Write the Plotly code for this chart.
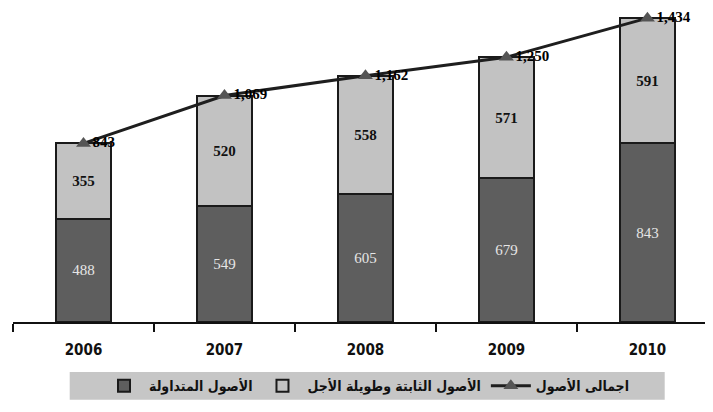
import plotly.graph_objects as go

years = ["2006", "2007", "2008", "2009", "2010"]
current_assets = [488, 549, 605, 679, 843]
fixed_assets = [355, 520, 558, 571, 591]
total_assets = [843, 1069, 1162, 1250, 1434]
total_labels = ["843", "1,069", "1,162", "1,250", "1,434"]

name_current = "الأصول المتداولة"
name_fixed = "الأصول الثابتة وطويلة الأجل"
name_total = "اجمالى الأصول"

serif = "Liberation Serif, DejaVu Serif, serif"

fig = go.Figure()
fig.add_trace(go.Bar(
    x=years, y=current_assets, name=name_current,
    marker=dict(color="#5e5e5e", line=dict(color="#1a1a1a", width=2)),
    text=[str(v) for v in current_assets], textposition="inside",
    insidetextanchor="middle",
    textfont=dict(family=serif, size=15, color="#e6e6e6"),
))
fig.add_trace(go.Bar(
    x=years, y=fixed_assets, name=name_fixed,
    marker=dict(color="#c2c2c2", line=dict(color="#1a1a1a", width=2)),
    text=[str(v) for v in fixed_assets], textposition="inside",
    insidetextanchor="middle",
    textfont=dict(family=serif, size=15, color="#111111", weight="bold"),
))
fig.add_trace(go.Scatter(
    x=years, y=total_assets, name=name_total,
    mode="lines+markers+text",
    line=dict(color="#1e1e1e", width=3),
    marker=dict(symbol="triangle-up", size=13, color="#555555"),
    text=total_labels, textposition="middle right",
    textfont=dict(family=serif, size=15, color="#000000", weight="bold"),
    cliponaxis=False,
))

fig.add_shape(
    type="rect", xref="paper", yref="paper",
    x0=0.081, x1=0.931, y0=-0.159, y1=-0.248,
    fillcolor="#c6c6c6", line=dict(width=0), layer="below",
)

fig.update_layout(
    width=705, height=404,
    margin=dict(l=5, r=0, t=0, b=90, autoexpand=False),
    barmode="stack", bargap=0.61,
    plot_bgcolor="white", paper_bgcolor="white",
    showlegend=True,
    legend=dict(
        orientation="h", x=0.505, xanchor="center", y=-0.204, yanchor="middle",
        bgcolor="rgba(0,0,0,0)", borderwidth=0,
        font=dict(family="DejaVu Sans Condensed, Noto Sans", size=14, color="#111111", weight="bold"),
        traceorder="normal", itemwidth=40,
    ),
    xaxis=dict(
        type="category", range=[-0.5, 4.465],
        showline=True, linecolor="#111111", linewidth=2,
        ticks="outside", tickson="boundaries", ticklen=8, tickcolor="#111111", tickwidth=2,
        ticklabelstandoff=13,
        tickfont=dict(family="DejaVu Sans Condensed, Liberation Sans Narrow", size=15, color="#111111", weight="bold"),
        showgrid=False,
    ),
    yaxis=dict(
        range=[0, 1482], visible=False, showgrid=False, zeroline=False,
    ),
)

fig.write_html("out.html")
